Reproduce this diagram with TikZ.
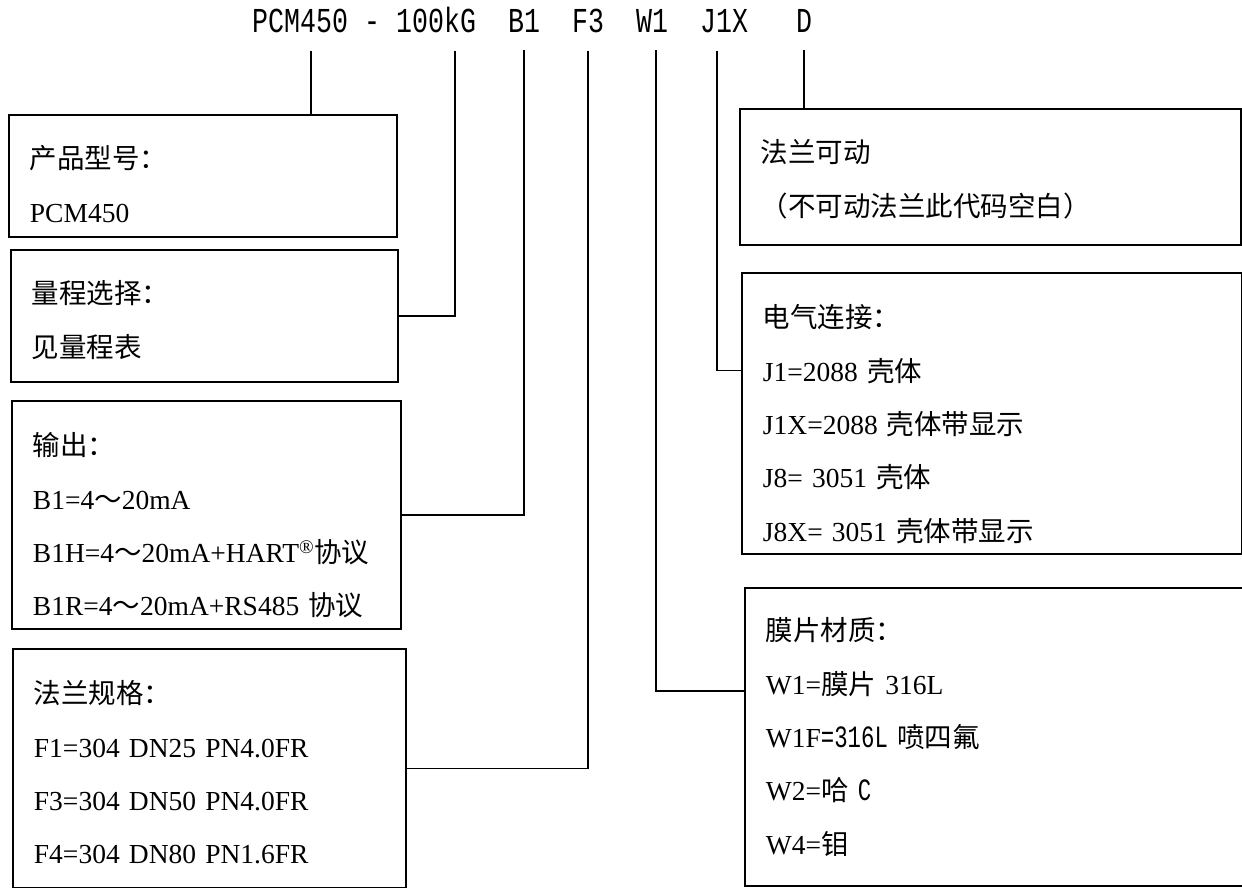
\documentclass[tikz,border=0pt]{standalone}
\usepackage{fontspec}
\setmainfont{Liberation Serif}
\newfontfamily\zhfont{Noto Sans CJK SC}
\newfontfamily\codefont{Liberation Mono}
\newcommand\zh[1]{{\zhfont #1}}
\newcommand\cd[1]{\scalebox{0.76}[1]{#1}}
\newcommand\nw[1]{\scalebox{0.72}[1]{\codefont\fontsize{31}{31}\selectfont #1}}
\tikzset{code/.style={font=\codefont\fontsize{35}{35}\selectfont,
                      anchor=base west,
                      inner xsep=0pt,
                      inner ysep=17pt
                      },
        infobox/.style={draw,
                      line width=1.9pt,
                      anchor=north west,
                      align=left,
                      inner xsep=21pt,
                      inner ysep=0pt,
                      text height=54pt,
                      font=\fontsize{27.5}{53.3}\selectfont
                      },
        link/.style={line width=1.8pt},
}

\begin{document}
\begin{tikzpicture}
    [x=1pt,y=-1pt]
    \useasboundingbox (0,0) rectangle (1242,888);

    % ORDER CODE
    \node[code] (model) at (252,33) {\cd{PCM450}};
    \node[code] (hyphen) at (364,33) {\cd{-}};
    \node[code] (range) at (396,33) {\cd{100kG}};
    \node[code] (output) at (508,33) {\cd{B1}};
    \node[code] (flange) at (572,33) {\cd{F3}};
    \node[code] (diaphragm) at (636,33) {\cd{W1}};
    \node[code] (housing) at (700,33) {\cd{J1X}};
    \node[code] (movable) at (796,33) {\cd{D}};

    % LEFT BOXES
    \node[infobox, text width=346pt, text depth=68pt] (modelbox) at (8,114) {
        \zh{产品型号：}\\
        PCM450
    };

    \node[infobox, text width=345pt, text depth=78pt] (rangebox) at (10,249) {
        \zh{量程选择：}\\
        \zh{见量程表}
    };

    \node[infobox, text width=347pt, text height=55pt, text depth=173pt] (outputbox) at (11,400) {
        \zh{输出：}\\
        B1=4\zh{～}20mA\\
        B1H=4\zh{～}20mA+HART\textsuperscript{®}\zh{协议}\\
        B1R=4\zh{～}20mA+RS485 \zh{协议}
    };

    \node[infobox, text width=351pt, text height=55pt, text depth=184pt] (flangebox) at (12,648) {
        \zh{法兰规格：}\\
        F1=304 DN25 PN4.0FR\\
        F3=304 DN50 PN4.0FR\\
        F4=304 DN80 PN1.6FR
    };

    % RIGHT BOXES
    \node[infobox, text width=459pt, text depth=82pt] (movablebox) at (739,108) {
        \zh{法兰可动}\\
        \zh{（不可动法兰此代码空白）}
    };

    \node[infobox, text width=458pt, text height=55pt, text depth=226pt] (housingbox) at (741,272) {
        \zh{电气连接：}\\
        J1=2088 \zh{壳体}\\
        J1X=2088 \zh{壳体带显示}\\
        J8= 3051 \zh{壳体}\\
        J8X= 3051 \zh{壳体带显示}
    };

    \node[infobox, text width=476pt, text height=53pt, text depth=245pt] (diaphragmbox) at (744,587) {
        \zh{膜片材质：}\\
        W1=\zh{膜片} 316L\\
        W1F\nw{=316L} \zh{喷四氟}\\
        W2=\zh{哈} \nw{C}\\
        W4=\zh{钼}
    };

    % CONNECTORS
    \coordinate (modeltap) at ([xshift=11pt]model.south);
    \coordinate (rangetap) at ([xshift=19pt]range.south);
    \coordinate (diaphragmtap) at ([xshift=4pt]diaphragm.south);
    \coordinate (housingtap) at ([xshift=-7pt]housing.south);

    \draw[link,line width=2.5pt] (modeltap) -- (modeltap |- modelbox.north);
    \draw[link] (rangetap) |- (rangebox.east);
    \draw[link] (output.south) |- (outputbox.east);
    \draw[link] (flange.south) |- (flangebox.east);
    \draw[link] (diaphragmtap) |- ([yshift=46pt]diaphragmbox.west);
    \draw[link] (housingtap) |- ([yshift=43pt]housingbox.west);
    \draw[link] (movable.south) -- (movable.south |- movablebox.north);

\end{tikzpicture}
\end{document}
